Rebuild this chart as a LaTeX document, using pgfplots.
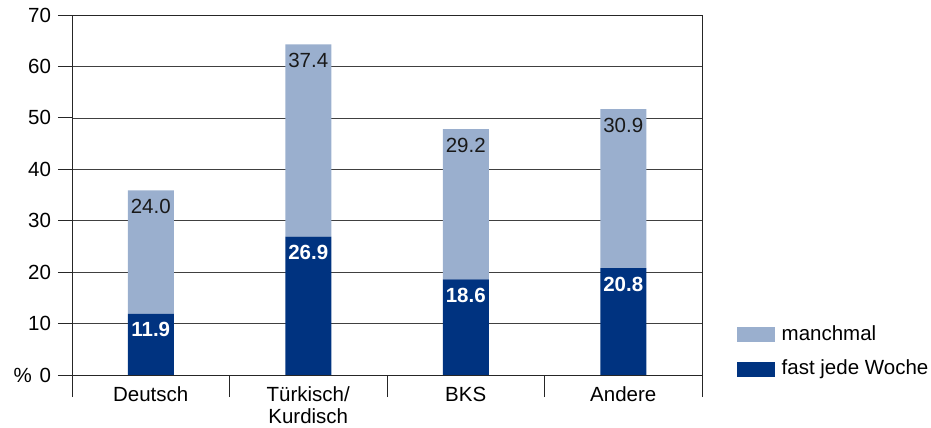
\documentclass[border=0pt]{standalone}
\usepackage{fontspec}
\setmainfont{Liberation Sans}
\usepackage{pgfplots}
\pgfplotsset{compat=1.18}
\usetikzlibrary{calc}

\definecolor{darkblue}{RGB}{0,51,128}
\definecolor{lightblue}{RGB}{154,175,206}

\begin{document}
\fontsize{20.5}{23}\selectfont
\begin{tikzpicture}
\begin{axis}[
  name=ax,
  scale only axis,
  width=630pt, height=360pt,
  ybar stacked,
  bar width=46pt,
  xmin=-0.5, xmax=3.5,
  ymin=0, ymax=70,
  ytick={0,10,...,70},
  xtick={0,1,2,3},
  xticklabels={Deutsch,{Türkisch/\\Kurdisch},BKS,Andere},
  xticklabel style={align=center, yshift=9pt, font=\fontsize{20.5}{22}\selectfont},
  minor xtick={-0.5,0.5,1.5,2.5,3.5},
  major x tick style={draw=none},
  tick align=outside,
  major tick length=14pt,
  minor tick length=22pt,
  xtick pos=bottom, ytick pos=left,
  tick style={black!85, line width=0.8pt},
  axis line style={black!85, line width=0.8pt},
  ymajorgrids,
  major grid style={black!75, line width=0.7pt},
  /pgf/number format/assume math mode=true,
  point meta=rawy,
  visualization depends on=rawy \as \rawy,
  nodes near coords={\pgfmathprintnumber[fixed,fixed zerofill,precision=1]{\pgfplotspointmeta}},
  every node near coord/.style={anchor=center, yshift={\rawy*2.5714pt-16pt}},
  reverse legend,
  legend cell align=left,
  legend style={draw=none, fill=none, at={(1.05,0.15)}, anchor=north west,
    row sep=13pt, /tikz/every odd column/.append style={column sep=5pt}},
  legend image code/.code={\fill[#1] (0pt,-7.5pt) rectangle (38pt,7.5pt);},
]
\addplot+[draw=none, fill=darkblue,
  every node near coord/.append style={text=white, font=\bfseries}]
  coordinates {(0,11.9) (1,26.9) (2,18.6) (3,20.8)};
\addlegendentry{fast jede Woche}
\addplot+[draw=none, fill=lightblue,
  every node near coord/.append style={text=black!90}]
  coordinates {(0,24.0) (1,37.4) (2,29.2) (3,30.9)};
\addlegendentry{manchmal}
\end{axis}
\node[anchor=east, inner sep=0pt] at ([xshift=-40pt]ax.south west) {\%};
\pgfresetboundingbox
\path ($(ax.south west)+(-72pt,-53pt)$) rectangle ($(ax.north east)+(229pt,15pt)$);
\end{tikzpicture}
\end{document}
